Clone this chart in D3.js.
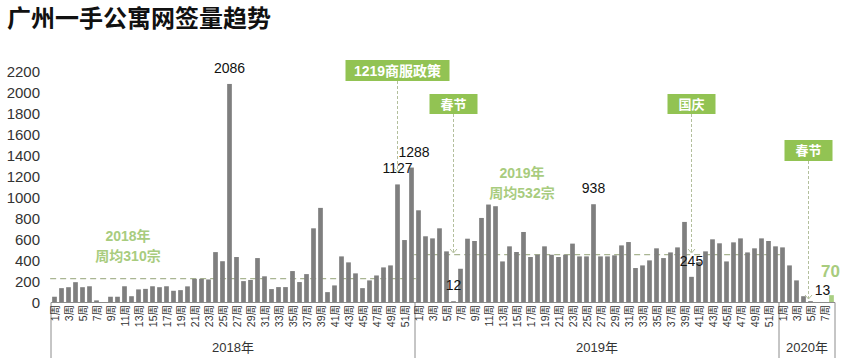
<!DOCTYPE html>
<html><head><meta charset="utf-8">
<script src="https://cdn.jsdelivr.net/npm/d3@7/dist/d3.min.js"></script>
<style>
body{margin:0;background:#fff;}
svg{display:block;font-family:"Liberation Sans",Arial,sans-serif;}
</style></head>
<body><svg id="c" width="842" height="361"></svg>
<script>
const title = "广州一手公寓网签量趋势";
const years = ["2018年","2019年","2020年"];
const values2018 = [55,137,146,194,146,155,20,3,55,55,155,60,125,130,155,146,155,112,118,154,
  226,226,220,481,394,2086,434,204,215,424,250,128,147,147,300,195,271,708,903,99,
  163,440,383,278,137,211,258,335,354,1127,596,1288];
const values2019 = [880,632,612,708,488,12,322,609,587,807,935,919,392,536,482,673,434,456,536,456,
  434,456,562,440,440,938,440,440,450,545,577,329,354,402,517,424,478,526,769,245,
  386,488,603,565,392,574,612,478,517,612,587,536];
const values2020 = [526,354,211,60,13,0,0,70];
const yTicks = [0,200,400,600,800,1000,1200,1400,1600,1800,2000,2200];
const avgValues = [228,456];           // dashed average lines as drawn
const avgTexts = [["2018年","周均310宗"],["2019年","周均532宗"]];
const labeled = [["2018",26],["2018",50],["2018",52],["2019",6],["2019",26],["2019",40],["2020",5],["2020",8]];
const events = [["1219商服政策","2018",50],["春节","2019",6],["国庆","2019",40],["春节","2020",5]];

const data = [];
[["2018",values2018],["2019",values2019],["2020",values2020]].forEach(([yr,arr])=>{
  arr.forEach((v,i)=>data.push({year:yr,week:i+1,key:yr+"-"+(i+1),value:v}));
});

const svg = d3.select("#c");
const x = d3.scaleBand().domain(data.map(d=>d.key)).range([51,835]).paddingInner(0.33).paddingOuter(0.165);
const y = d3.scaleLinear().domain([0,2200]).range([302.5,72]);
const cx = k => x(k)+x.bandwidth()/2;

const green = "#92c353", lightGreen = "#a8cc7e", dashCol = "#b3bf9c";

// title
svg.append("text").attr("x",7).attr("y",27).text(title)
  .attr("font-family","'Noto Sans CJK SC',sans-serif").attr("font-weight","bold").attr("font-size",24).attr("fill","#111");

// y axis labels
svg.append("g").selectAll("text").data(yTicks).join("text")
  .attr("x",40).attr("y",d=>y(d)).attr("dy","0.36em").attr("text-anchor","end")
  .attr("font-size",15).attr("fill","#333").text(d=>d);

// avg lines
const yrRanges = [["2018-1","2018-52"],["2019-1","2019-52"]];
yrRanges.forEach((r,i)=>{
  svg.append("line").attr("x1",x(r[0])-2).attr("x2",x(r[1])+x.bandwidth()+2)
    .attr("y1",y(avgValues[i])).attr("y2",y(avgValues[i]))
    .attr("stroke","#a9b592").attr("stroke-width",1.2).attr("stroke-dasharray","6,4");
});

// bars
svg.append("g").selectAll("rect").data(data).join("rect")
  .attr("x",d=>x(d.key)).attr("width",x.bandwidth())
  .attr("y",d=>y(d.value)).attr("height",d=>y(0)-y(d.value))
  .attr("fill",d=>d.key==="2020-8"?"#a9cf82":"#7f7f7f");

// x axis
svg.append("line").attr("x1",51).attr("x2",835).attr("y1",302.5).attr("y2",302.5).attr("stroke","#8c8c8c");
const dividers = [51, (x("2018-52")+x("2019-1")+x.bandwidth())/2, (x("2019-52")+x("2020-1")+x.bandwidth())/2, 835];
svg.append("g").selectAll("line").data(dividers).join("line")
  .attr("x1",d=>d).attr("x2",d=>d).attr("y1",302.5).attr("y2",358).attr("stroke","#8c8c8c");
svg.append("g").selectAll("text").data(data.filter(d=>d.week%2===1)).join("text")
  .attr("transform",d=>`translate(${cx(d.key)+0.5},305) rotate(-90)`)
  .attr("text-anchor","end").attr("dy","0.35em").attr("font-size",10.5)
  .attr("font-family","'Liberation Sans','Noto Sans CJK SC',sans-serif").attr("fill","#333")
  .text(d=>d.week+"周");
years.forEach((t,i)=>{
  svg.append("text").attr("x",(dividers[i]+dividers[i+1])/2).attr("y",352)
    .attr("text-anchor","middle").attr("font-size",13).attr("fill","#333")
    .attr("font-family","'Liberation Sans','Noto Sans CJK SC',sans-serif").text(t);
});

// avg texts
const avgPos = [[128,236],[522,173]];
avgTexts.forEach((lines,i)=>{
  lines.forEach((t,j)=>{
    svg.append("text").attr("x",avgPos[i][0]).attr("y",avgPos[i][1]+j*20).attr("dy","0.36em")
      .attr("text-anchor","middle").attr("font-size",14).attr("font-weight","bold")
      .attr("font-family","'Liberation Sans','Noto Sans CJK SC',sans-serif")
      .attr("fill",lightGreen).text(t);
  });
});

// data labels
labeled.forEach(([yr,wk])=>{
  const d = data.find(e=>e.year===yr && e.week===wk);
  const special = d.key==="2020-8";
  let dx = 0, dyy = -11;
  if(d.key==="2018-52") dx=2.5;
  if(d.key==="2020-5") {dx=12; dyy=-6;}
  if(special) {dx=-1; dyy=-18;}
  svg.append("text").attr("x",cx(d.key)+dx).attr("y",y(d.value)+dyy)
    .attr("text-anchor","middle").attr("font-size",special?17:14)
    .attr("font-weight",special?"bold":"normal")
    .attr("fill",special?lightGreen:"#111").text(d.value);
});

// event annotations
const boxY = {"1219商服政策":[60,21],"春节2019":[94,20],"国庆":[94,20],"春节2020":[140,21]};
const tipY = [172,253,253,299];
events.forEach(([label,yr,wk],i)=>{
  const k = yr+"-"+wk;
  const lx = cx(k) - (yr==="2020"?2:0);
  const key = boxY[label]?label:label+yr;
  const [by,bh] = boxY[key];
  const bw = label.length>2?104:48;
  svg.append("line").attr("x1",lx).attr("x2",lx).attr("y1",by+bh).attr("y2",tipY[i])
    .attr("stroke",dashCol).attr("stroke-width",1).attr("stroke-dasharray","3,2");
  svg.append("path").attr("d",`M${lx-3.5},${tipY[i]-4} L${lx},${tipY[i]} L${lx+3.5},${tipY[i]-4}`)
    .attr("fill","none").attr("stroke",dashCol).attr("stroke-width",1);
  svg.append("rect").attr("x",lx-bw/2).attr("y",by).attr("width",bw).attr("height",bh).attr("fill",green);
  svg.append("text").attr("x",lx).attr("y",by+bh/2).attr("dy","0.36em").attr("text-anchor","middle")
    .attr("font-size",label.length>2?14:13).attr("font-weight","bold").attr("fill","#fff")
    .attr("font-family","'Liberation Sans','Noto Sans CJK SC',sans-serif").text(label);
});
</script></body></html>
